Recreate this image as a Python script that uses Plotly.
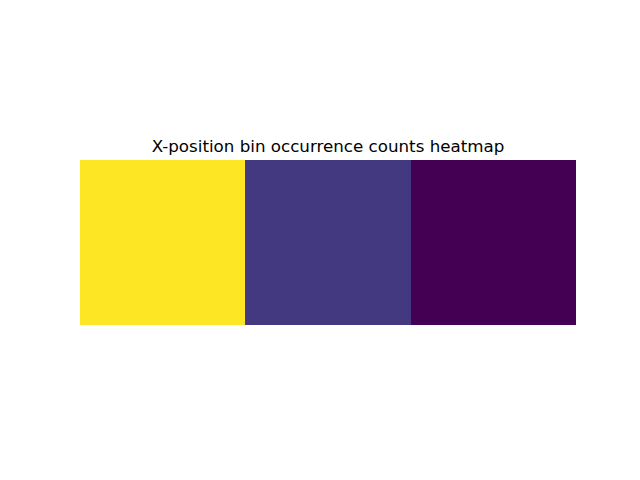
import plotly.graph_objects as go

bins = ["bin 0", "bin 1", "bin 2"]
counts = [7, 2, 1]
title_text = "X-position bin occurrence counts heatmap"

fig = go.Figure(go.Heatmap(
    z=[counts],
    x=bins,
    colorscale="Viridis",
    showscale=False,
    xgap=0, ygap=0,
))
fig.update_layout(
    width=640, height=480, autosize=False,
    margin=dict(l=80, r=64, t=160, b=155, pad=0),
    paper_bgcolor="white", plot_bgcolor="white",
    title=dict(text=title_text, x=0.5, xref="paper", xanchor="center",
               y=1, yref="paper", yanchor="bottom", pad=dict(b=8),
               font=dict(family="DejaVu Sans", size=16.7, color="black")),
    xaxis=dict(visible=False),
    yaxis=dict(visible=False),
)
fig.write_html("out.html")
